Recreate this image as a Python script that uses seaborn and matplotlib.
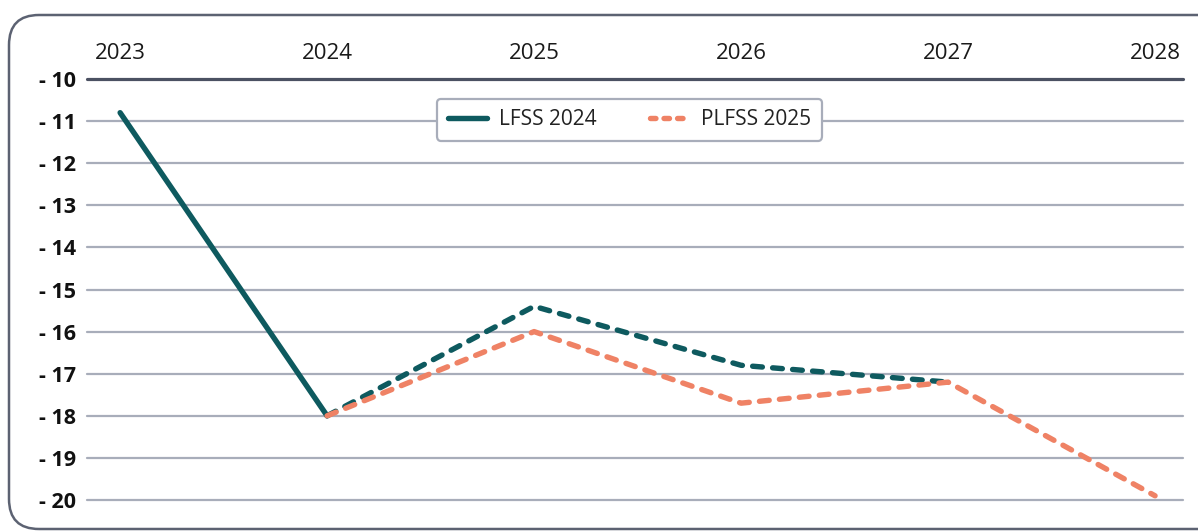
import numpy as np
import pandas as pd
import seaborn as sns
import matplotlib.pyplot as plt
from matplotlib.patches import FancyBboxPatch
from matplotlib.lines import Line2D

# données (Md€)
years = [2023, 2024, 2025, 2026, 2027, 2028]
lfss_years = [2023, 2024, 2025, 2026, 2027]
lfss_values = [-10.8, -18.0, -15.4, -16.8, -17.2]
plfss_years = [2024, 2025, 2026, 2027, 2028]
plfss_values = [-18.0, -16.0, -17.7, -17.2, -19.9]
y_ticks = [-10, -11, -12, -13, -14, -15, -16, -17, -18, -19, -20]
y_labels = ["- 10", "- 11", "- 12", "- 13", "- 14", "- 15", "- 16", "- 17", "- 18", "- 19", "- 20"]
series_names = ["LFSS 2024", "PLFSS 2025"]

teal = "#0e5a5f"
salmon = "#ef8265"
grid_col = "#a8adba"
dark = "#4b5162"

sns.set_style("white")
plt.rcParams['font.family'] = ['Open Sans', 'DejaVu Sans']

W, H = 1198, 531
fig = plt.figure(figsize=(W/100, H/100), dpi=100)
ax = fig.add_axes([87/W, 1 - 500/H, (1183 - 87)/W, (500 - 79)/H])

# cadre arrondi (en pixels)
frame = FancyBboxPatch((9, 2), 1222, H - 15 - 2,
                       boxstyle="round,pad=0,rounding_size=30",
                       transform=None, fill=False,
                       edgecolor="#5c6272", linewidth=1.8)
fig.patches.append(frame)

# grille
for t in y_ticks:
    ax.axhline(t, color=dark if t == -10 else grid_col,
               linewidth=2.3 if t == -10 else 1.6, zorder=1, clip_on=False)

lfss = pd.DataFrame({"annee": lfss_years, "solde": lfss_values})
plfss = pd.DataFrame({"annee": plfss_years, "solde": plfss_values})

lw = 3.9
# LFSS réalisé (trait plein) puis prévision (pointillés)
sns.lineplot(data=lfss.iloc[:2], x="annee", y="solde", ax=ax, color=teal,
             linewidth=lw, solid_capstyle="round", zorder=3, clip_on=False)
sns.lineplot(data=lfss.iloc[1:], x="annee", y="solde", ax=ax, color=teal,
             linewidth=lw, zorder=3, clip_on=False)
ax.lines[-1].set_dashes((1.8, 1.9))
ax.lines[-1].set_dash_capstyle("round")
sns.lineplot(data=plfss, x="annee", y="solde", ax=ax, color=salmon,
             linewidth=lw, zorder=4, clip_on=False)
ax.lines[-1].set_dashes((1.8, 1.9))
ax.lines[-1].set_dash_capstyle("round")

ax.set_xlim(2022.84, 2028.135)
ax.set_ylim(-20, -10)
ax.set_xticks(years)
ax.set_xticklabels([str(y) for y in years], fontsize=16, color="#1a1a1a")
ax.xaxis.tick_top()
ax.set_yticks(y_ticks)
ax.set_yticklabels(y_labels, fontsize=15.5, fontweight="bold", color="#111111")
ax.tick_params(axis="x", length=0, pad=11)
ax.tick_params(axis="y", length=0, pad=8)
ax.set_xlabel("")
ax.set_ylabel("")
for s in ax.spines.values():
    s.set_visible(False)

h1 = Line2D([], [], color=teal, linewidth=lw, solid_capstyle="round")
h2 = Line2D([], [], color=salmon, linewidth=lw, dashes=(1.0, 1.5), dash_capstyle="round")
leg = ax.legend([h1, h2], series_names, loc="upper center", bbox_to_anchor=(0.495, 0.978),
                ncol=2, fontsize=15, frameon=True, fancybox=True, edgecolor="#a8adba",
                handlelength=1.9, columnspacing=2.6, borderpad=0.5, handletextpad=0.55)
leg.get_frame().set_linewidth(1.6)
leg.get_frame().set_alpha(1)
for t in leg.get_texts():
    t.set_color("#222222")

fig.savefig("out.png", dpi=100)
